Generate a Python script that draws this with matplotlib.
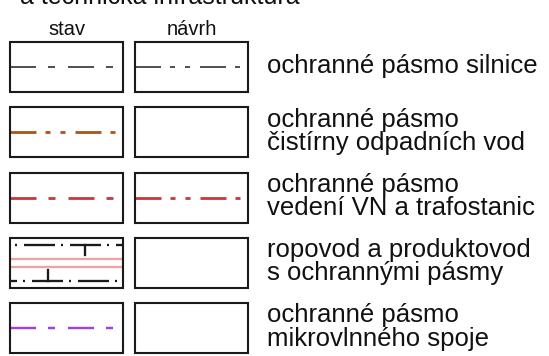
import matplotlib
matplotlib.use("Agg")
import matplotlib.pyplot as plt

plt.rcParams['font.family'] = ['Liberation Sans', 'DejaVu Sans']
plt.rcParams['lines.scale_dashes'] = False

# legend content
title = "a technická infrastruktura"
columns = ["stav", "návrh"]
labels = [
    "ochranné pásmo silnice",
    "ochranné pásmo\nčistírny odpadních vod",
    "ochranné pásmo\nvedení VN a trafostanic",
    "ropovod a produktovod\ns ochrannými pásmy",
    "ochranné pásmo\nmikrovlnného spoje",
]
# symbol per row: (colour, pattern name, width px) or None / "pipe"
stav_symbols = [
    ("#4a4a4a", "dashdot", 1.9),
    ("#a9561e", "dashdotdot", 2.8),
    ("#c8383c", "dashdot", 2.8),
    "pipe",
    ("#a23ee0", "dashdot", 2.4),
]
navrh_symbols = [
    ("#4a4a4a", "dashdotdot", 1.9),
    None,
    ("#c8383c", "dashdotdot", 2.8),
    None,
    None,
]

# dash patterns in pixels
patterns = {
    "dashdot": [26, 12, 7, 13],
    "dashdotdot": [26, 9, 5, 10, 5, 10],
    "pipe": [31, 6, 2, 7],
}

PX = 72 / 100.0  # pixel -> point at dpi 100


def pts(seq):
    return [v * PX for v in seq]


fig = plt.figure(figsize=(5.49, 3.56), dpi=100)
ax = fig.add_axes([0, 0, 1, 1])
ax.set_xlim(0, 549)
ax.set_ylim(356, 0)
ax.axis('off')

box_x = [10, 135]
box_w = 113
box_h = 50
row_top = 42
row_step = 65.25
text_x = 267

ax.text(20, 4, title, fontsize=18, ha='left', va='baseline', color='#111111')
for i, c in enumerate(columns):
    ax.text(box_x[i] + box_w / 2, 35, c, fontsize=14.5, ha='center', va='baseline', color='#111111')


def draw_pipe(x0, top):
    x1 = x0 + box_w
    y_top = top + 7
    y_bot = top + 43
    ax.plot([x0, x1], [y_top, y_top], color='#1a1a1a', lw=2.3 * PX,
            linestyle=(32 * PX, pts(patterns["pipe"])))
    ax.plot([x0, x1], [y_bot, y_bot], color='#1a1a1a', lw=2.3 * PX,
            linestyle=(24 * PX, pts(patterns["pipe"])))
    ax.plot([x0 + 75, x0 + 75], [y_top, y_top + 10], color='#1a1a1a', lw=2.3 * PX)
    ax.plot([x0 + 38, x0 + 38], [y_bot - 11, y_bot], color='#1a1a1a', lw=2.3 * PX)
    for yy in (top + 21, top + 29):
        ax.plot([x0, x1], [yy, yy], color='#eca4a6', lw=2.3 * PX, solid_capstyle='butt')


for r, lab in enumerate(labels):
    top = row_top + r * row_step
    mid = top + box_h / 2
    for c, sym in enumerate([stav_symbols[r], navrh_symbols[r]]):
        x0 = box_x[c]
        if sym == "pipe":
            draw_pipe(x0, top)
        elif sym is not None:
            col, pat, w = sym
            ax.plot([x0, x0 + box_w], [mid, mid], color=col, lw=w * PX,
                    linestyle=(0, pts(patterns[pat])))
        ax.add_patch(plt.Rectangle((x0, top), box_w, box_h, fill=False,
                                   edgecolor='#1a1a1a', lw=2.1 * PX, zorder=5))
    ax.text(text_x, mid - 1, lab, fontsize=18.5, ha='left', va='center',
            linespacing=0.97, color='#111111')

fig.savefig("out.png", dpi=100)
